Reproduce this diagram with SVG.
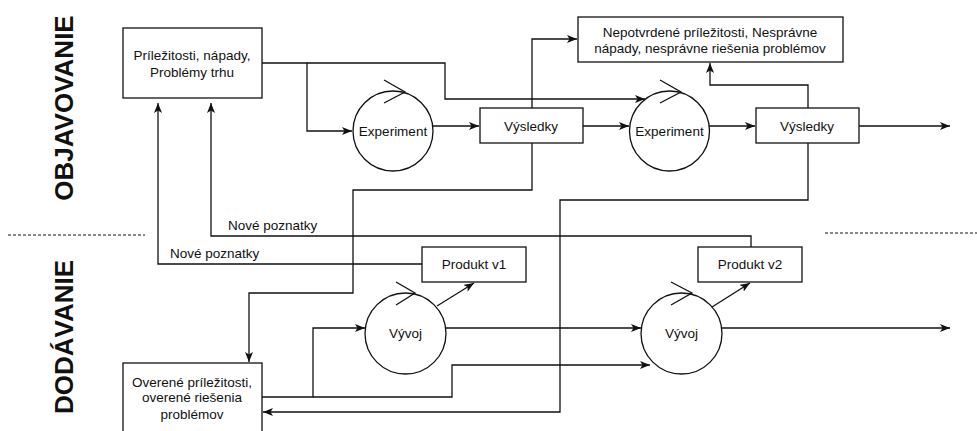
<svg xmlns="http://www.w3.org/2000/svg" width="977" height="431" viewBox="0 0 977 431">
  <defs>
    <marker id="arrow" viewBox="0 0 10 8" refX="10" refY="4" markerWidth="10" markerHeight="8" markerUnits="userSpaceOnUse" orient="auto">
      <path d="M0,0 L10,4 L0,8 L2.5,4 z" fill="#111"/>
    </marker>
    <style>
      .box { fill: #fff; stroke: #111; stroke-width: 1.3; }
      .cyc { fill: #fff; stroke: #111; stroke-width: 1.3; }
      .chev { fill: none; stroke: #111; stroke-width: 1.3; }
      .edge { fill: none; stroke: #111; stroke-width: 1.3; marker-end: url(#arrow); }
      .lbl { font-family: "Liberation Sans", Arial, sans-serif; font-size: 13.5px; fill: #111; }
      .mid { text-anchor: middle; }
      .title { font-family: "Liberation Sans", Arial, sans-serif; font-size: 26px; font-weight: bold; fill: #111; text-anchor: middle; }
      .sep { fill: none; stroke: #111; stroke-width: 1; stroke-dasharray: 3 2; }
    </style>
  </defs>
  <rect width="977" height="431" fill="#fff"/>

  <!-- lane titles and separators -->
  <text class="title" transform="translate(73,108) rotate(-90)">OBJAVOVANIE</text>
  <text class="title" transform="translate(73,337) rotate(-90)">DODÁVANIE</text>
  <path class="sep" d="M8,235 H145"/>
  <path class="sep" d="M825,233 H977"/>

  <!-- connectors -->
  <g id="connectors">
    <path class="edge" d="M262,63 H307 V131 H352"/>
    <path class="edge" d="M307,63 H445 V99 H645"/>
    <path class="edge" d="M433,126 H479"/>
    <path class="edge" d="M583,126 H629"/>
    <path class="edge" d="M532,108 V39 H577"/>
    <path class="edge" d="M709,126 H755"/>
    <path class="edge" d="M859,126 H950"/>
    <path class="edge" d="M808,108 V85 H710 V63"/>
    <path class="edge" d="M532,143 V190 H353 V293 H249 V362"/>
    <path class="edge" d="M808,143 V200 H560 V412 H263"/>
    <path class="edge" d="M262,397 H313 V328 H365"/>
    <path class="edge" d="M313,397 H452 V365 H650"/>
    <path class="edge" d="M446,328 H641"/>
    <path class="edge" d="M721,328 H950"/>
    <path class="edge" d="M437,306 L474,283"/>
    <path class="edge" d="M712,307 L750,283"/>
    <path class="edge" d="M422,264 H158 V103"/>
    <path class="edge" d="M751,247 V236 H211 V103"/>
    <text class="lbl" x="170" y="258">Nové poznatky</text>
    <text class="lbl" x="228" y="230">Nové poznatky</text>
  </g>

  <!-- nodes -->
  <g id="prilezitosti">
    <rect class="box" x="123" y="28" width="139" height="70"/>
    <text class="lbl mid" x="192" y="60">Príležitosti, nápady,</text>
    <text class="lbl mid" x="192" y="77">Problémy trhu</text>
  </g>

  <g id="experiment1">
    <circle class="cyc" cx="393" cy="131" r="40"/>
    <path class="chev" d="M384,80 L405,92 L384,103"/>
    <text class="lbl mid" x="393" y="136">Experiment</text>
  </g>

  <g id="vysledky1">
    <rect class="box" x="480" y="108" width="103" height="35"/>
    <text class="lbl mid" x="531" y="131">Výsledky</text>
  </g>

  <g id="experiment2">
    <circle class="cyc" cx="669.5" cy="131" r="40"/>
    <path class="chev" d="M660,80 L681,92 L660,103"/>
    <text class="lbl mid" x="669.5" y="136">Experiment</text>
  </g>

  <g id="vysledky2">
    <rect class="box" x="756" y="108" width="103" height="35"/>
    <text class="lbl mid" x="807" y="131">Výsledky</text>
  </g>

  <g id="nepotvrdene">
    <rect class="box" x="578" y="17" width="265" height="45"/>
    <text class="lbl mid" x="710" y="37">Nepotvrdené príležitosti, Nesprávne</text>
    <text class="lbl mid" x="710" y="53">nápady, nesprávne riešenia problémov</text>
  </g>

  <g id="produkt1">
    <rect class="box" x="422" y="247" width="104" height="35"/>
    <text class="lbl mid" x="474" y="269">Produkt v1</text>
  </g>

  <g id="produkt2">
    <rect class="box" x="698" y="247" width="104" height="35"/>
    <text class="lbl mid" x="750" y="269">Produkt v2</text>
  </g>

  <g id="vyvoj1">
    <circle class="cyc" cx="405.5" cy="333.5" r="40.5"/>
    <path class="chev" d="M396,282 L415,293 L396,305"/>
    <text class="lbl mid" x="405.5" y="338">Vývoj</text>
  </g>

  <g id="vyvoj2">
    <circle class="cyc" cx="681.5" cy="333.5" r="40.5"/>
    <path class="chev" d="M671,282 L692,293 L671,305"/>
    <text class="lbl mid" x="681.5" y="338">Vývoj</text>
  </g>

  <g id="overene">
    <rect class="box" x="123" y="363" width="139" height="75"/>
    <text class="lbl mid" x="192" y="387">Overené príležitosti,</text>
    <text class="lbl mid" x="192" y="402">overené riešenia</text>
    <text class="lbl mid" x="192" y="419">problémov</text>
  </g>
</svg>
